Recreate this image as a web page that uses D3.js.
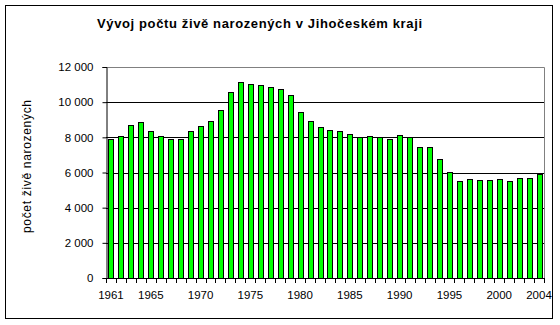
<!DOCTYPE html>
<html>
<head>
<meta charset="utf-8">
<script src="https://cdn.jsdelivr.net/npm/d3@7"></script>
<style>
  body { margin: 0; background: #fff; }
  svg { display: block; font-family: "Liberation Sans", Arial, sans-serif; }
</style>
</head>
<body>
<div id="chart"></div>
<script>
// years and live births
var years = d3.range(1961, 2005);
var births = [7900, 8070, 8690, 8860, 8350, 8070, 7930, 7930, 8350, 8640,
              8920, 9550, 10570, 11140, 11020, 10970, 10850, 10740, 10400, 9430,
              8920, 8580, 8410, 8350, 8180, 8010, 8070, 8010, 7900, 8120,
              8010, 7440, 7440, 6760, 6020, 5510, 5630, 5570, 5570, 5630,
              5510, 5680, 5680, 5910];
var yTicks = [0, 2000, 4000, 6000, 8000, 10000, 12000];
var xLabels = [1961, 1965, 1970, 1975, 1980, 1985, 1990, 1995, 2000, 2004];

var titleText = "Vývoj počtu živě narozených v Jihočeském kraji";
var yTitle = "počet živě narozených";

var W = 560, H = 325;
var margin = {top: 67, right: 16, bottom: 47, left: 106};
var width = W - margin.left - margin.right,
    height = H - margin.top - margin.bottom;

var svg = d3.select("#chart").append("svg")
    .attr("width", W)
    .attr("height", H);

// outer frame
svg.append("rect")
    .attr("x", 5.5).attr("y", 5.5)
    .attr("width", 547).attr("height", 313)
    .attr("fill", "#fff")
    .attr("stroke", "#000")
    .attr("stroke-width", 1);

svg.append("text")
    .attr("x", 97).attr("y", 28)
    .attr("textLength", 325)
    .attr("lengthAdjust", "spacing")
    .style("font-size", "13px")
    .style("font-weight", "bold")
    .text(titleText);

var g = svg.append("g")
    .attr("transform", "translate(" + margin.left + "," + margin.top + ")");

var x = d3.scaleBand()
    .domain(years)
    .range([0, width])
    .paddingInner(0.5)
    .paddingOuter(0.25);

var y = d3.scaleLinear()
    .domain([0, 12000])
    .range([height, 0]);

// plot border (gray top/right)
g.append("path")
    .attr("d", "M0.5," + 0.5 + "H" + (width + 0.5) + "V" + height)
    .attr("fill", "none")
    .attr("stroke", "#808080");

// gridlines
g.selectAll(".grid")
    .data(yTicks.filter(function(d) { return d > 0 && d < 12000; }))
    .enter().append("line")
    .attr("x1", 0).attr("x2", width)
    .attr("y1", function(d) { return Math.round(y(d)) + 0.5; })
    .attr("y2", function(d) { return Math.round(y(d)) + 0.5; })
    .attr("stroke", "#000");

// bars
g.selectAll(".bar")
    .data(years)
    .enter().append("rect")
    .attr("x", function(d) { return Math.round(x(d)) + 0.5; })
    .attr("y", function(d, i) { return Math.round(y(births[i])) + 0.5; })
    .attr("width", Math.round(x.bandwidth()))
    .attr("height", function(d, i) { return Math.round(height - y(births[i])); })
    .attr("fill", "#00ff00")
    .attr("stroke", "#000")
    .attr("stroke-width", 1);

// y axis
var yAxis = g.append("g")
    .attr("transform", "translate(0.5,0)")
    .call(d3.axisLeft(y).tickValues(yTicks).tickSize(4).tickPadding(9)
        .tickFormat(function(d) { return d3.format(",")(d).replace(/,/g, " "); }));
yAxis.select(".domain").attr("stroke", "#000");
yAxis.selectAll("line").attr("stroke", "#000");
yAxis.selectAll("text").style("font-size", "11.5px").attr("fill", "#000")
    .style("font-family", "'Liberation Sans', Arial, sans-serif");

// x axis line and ticks at category boundaries
var step = x.step();
var x0 = x(years[0]) - step * 0.25;
g.append("line")
    .attr("x1", 0).attr("x2", width)
    .attr("y1", height + 0.5).attr("y2", height + 0.5)
    .attr("stroke", "#000");
g.selectAll(".xtick")
    .data(d3.range(years.length + 1))
    .enter().append("line")
    .attr("x1", function(i) { return Math.round(x0 + i * step) + 0.5; })
    .attr("x2", function(i) { return Math.round(x0 + i * step) + 0.5; })
    .attr("y1", height).attr("y2", height + 5)
    .attr("stroke", "#000");

g.selectAll(".xlab")
    .data(xLabels)
    .enter().append("text")
    .attr("x", function(d) { return x(d) + x.bandwidth() / 2; })
    .attr("y", height + 21)
    .attr("text-anchor", "middle")
    .style("font-size", "11.5px")
    .text(function(d) { return d; });

svg.append("text")
    .attr("transform", "translate(31,233) rotate(-90)")
    .attr("textLength", 133)
    .attr("lengthAdjust", "spacing")
    .style("font-size", "12px")
    .text(yTitle);
</script>
</body>
</html>
